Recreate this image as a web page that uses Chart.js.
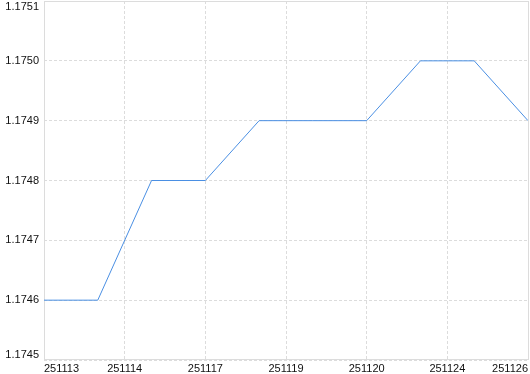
<!DOCTYPE html>
<html>
<head>
<meta charset="utf-8">
<script src="https://cdn.jsdelivr.net/npm/chart.js@4/dist/chart.umd.min.js"></script>
<style>
  html, body { margin: 0; padding: 0; background: #fff; }
  #chart { display: block; }
</style>
</head>
<body>
<canvas id="chart" width="530" height="374"></canvas>
<script>
// closing prices, one per step on the x axis
const steps = [0, 1, 2, 3, 4, 5, 6, 7, 8, 9];
const prices = [1.1746, 1.1746, 1.1748, 1.1748, 1.1749, 1.1749, 1.1749, 1.1750, 1.1750, 1.1749];
const dateLabels = ["251113", "251114", "251117", "251119", "251120", "251124", "251126"];
const yMin = 1.1745;
const yMax = 1.1751;
const yStep = 0.0001;
const xStep = 1.5;

const frame = {
    id: "frame",
    beforeDatasetsDraw(chart) {
        const a = chart.chartArea;
        const ctx = chart.ctx;
        ctx.save();
        ctx.strokeStyle = "#dcdcdc";
        ctx.lineWidth = 1;
        ctx.strokeRect(Math.round(a.left) + 0.5, Math.round(a.top) + 0.5,
            Math.round(a.right) - Math.round(a.left), Math.round(a.bottom) - Math.round(a.top) - 1);
        ctx.restore();
    }
};

const tickFont = { family: "Liberation Sans", size: 11, lineHeight: 1.0 };

new Chart(document.getElementById("chart").getContext("2d"), {
    type: "line",
    data: {
        datasets: [{
            data: steps.map((x, i) => ({ x: x, y: prices[i] })),
            borderColor: "#4a8fe3",
            borderWidth: 1,
            pointRadius: 0,
            tension: 0,
            fill: false
        }]
    },
    options: {
        responsive: false,
        animation: false,
        layout: { padding: { top: 1, right: 2, left: 0, bottom: 0 } },
        plugins: { legend: { display: false }, tooltip: { enabled: false } },
        scales: {
            x: {
                type: "linear",
                min: 0,
                max: 9,
                border: { display: false, dash: [3, 2] },
                grid: { color: "#dcdcdc", drawTicks: false },
                ticks: {
                    stepSize: xStep,
                    autoSkip: false,
                    maxRotation: 0,
                    align: "inner",
                    padding: 3,
                    color: "#111",
                    font: tickFont,
                    callback: v => dateLabels[Math.round(v / xStep)]
                },
                afterFit(scale) {
                    scale.height = 14;
                    scale.paddingLeft = 0;
                    scale.paddingRight = 0;
                }
            },
            y: {
                min: yMin,
                max: yMax,
                border: { display: false, dash: [3, 2] },
                grid: { color: "#dcdcdc", drawTicks: false },
                ticks: {
                    stepSize: yStep,
                    padding: 5,
                    color: "#111",
                    font: tickFont,
                    callback: v => {
                        const s = v.toFixed(4);
                        if (Math.abs(v - yMax) < 1e-7) return ["", s];
                        if (Math.abs(v - yMin) < 1e-7) return [s, ""];
                        return s;
                    }
                },
                afterFit(scale) {
                    scale.width = 44;
                    scale.paddingTop = 0;
                    scale.paddingBottom = 0;
                }
            }
        }
    },
    plugins: [frame]
});
</script>
</body>
</html>
